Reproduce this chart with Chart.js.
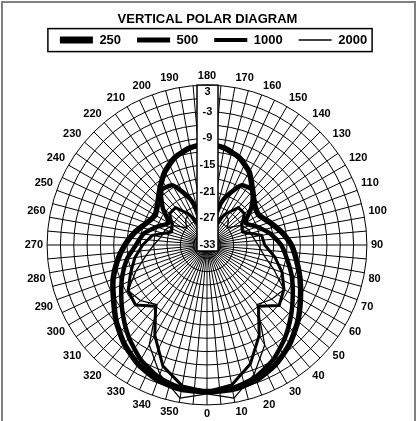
<!DOCTYPE html>
<html>
<head>
<meta charset="utf-8">
<script src="https://cdn.jsdelivr.net/npm/chart.js@4.4.1/dist/chart.umd.min.js"></script>
<style>
  html, body { margin: 0; padding: 0; background: #fff; }
  #wrap { width: 417px; height: 421px; position: relative; }
</style>
</head>
<body>
<div id="wrap"><canvas id="polar"></canvas></div>
<script>
// measured angle in degrees, one value every 10 deg
var angles = [0, 10, 20, 30, 40, 50, 60, 70, 80, 90, 100, 110, 120, 130, 140, 150, 160, 170,
              180, 190, 200, 210, 220, 230, 240, 250, 260, 270, 280, 290, 300, 310, 320, 330, 340, 350];

// level in dB for each band, same order as angles
var s250 = [0, 0, -0.6, -2, -4, -6.3, -8.7, -10.7, -12.5, -14, -16, -18, -19.5, -19, -17, -14, -12, -10.8,
            -10.2, -10.8, -12, -14, -16.5, -18.5, -19.5, -18.5, -16.5, -14.5, -12.5, -10.5, -8.7, -6.3, -4, -2, -0.6, 0];
var s500 = [0, -0.3, -1.3, -3.2, -5.7, -8.3, -10.7, -12.7, -14.7, -16.3, -18.5, -21, -23, -20, -17, -17.5, -22, -28,
            -31, -28, -22, -17.5, -17, -20, -23, -21, -18.5, -17, -14.7, -12.7, -10.7, -8.3, -5.7, -3.2, -1.3, -0.3];
var s1000 = [0, -1, -4.5, -9.5, -15, -11.8, -13, -15, -17.5, -20, -20.5, -24.5, -24, -22, -22, -25, -29, -31,
             -33, -31, -29, -25, -22, -22, -24, -24.5, -20.5, -18.5, -16.5, -14.7, -12.5, -12, -15, -9.5, -4, -0.8];
var s2000 = [0.5, 2, -2, -7, -15.5, -14, -13, -17, -20, -21.5, -22.5, -23, -24, -27, -25.5, -25, -27, -30,
             -33, -30, -27, -25, -25.5, -27, -24, -23, -22.5, -21, -19, -16, -12.5, -13.5, -15.5, -7, -2, 2];

var bandNames = ['250', '500', '1000', '2000'];
var bandSeries = [s250, s500, s1000, s2000];
var lineWidths = [5.5, 4.5, 3, 1.3];
var lineTension = [0.2, 0.2, 0, 0];
var legendWidths = [7, 5, 4, 1.5];

// radial axis
var scaleMin = -33;
var scaleMax = 3;
var tickLabels = [3, -3, -9, -15, -21, -27, -33];

// spokes every 5 deg, clockwise from 180 at the top
var spokes = [];
for (var i = 0; i < 72; i++) spokes.push(String((540 - 5 * i) % 360));

function toSpokes(series) {
  return spokes.map(function (a) {
    var k = angles.indexOf(+a);
    return k < 0 ? null : series[k];
  });
}

Chart.defaults.font.family = "'Liberation Sans', Arial, sans-serif";
Chart.defaults.color = '#000';

var LEGEND_SHIFT = 6;

var frame = {
  id: 'frame',
  afterLayout: function (chart) {
    // nudge the legend row a little to the right, like the original
    var lg = chart.legend;
    lg.left += LEGEND_SHIFT;
    lg.right += LEGEND_SHIFT;
    (lg.legendHitBoxes || []).forEach(function (b) { b.left += LEGEND_SHIFT; });
  },
  beforeDraw: function (chart) {
    var c = chart.ctx;
    c.save();
    c.fillStyle = '#fff';
    c.fillRect(0, 0, chart.width, chart.height);
    c.strokeStyle = '#808080';
    c.lineWidth = 2;
    c.strokeRect(2, 2, chart.width - 4, chart.height + 20);
    c.restore();
  },
  afterDatasetsDraw: function (chart) {
    // white strip holding the dB scale, drawn over the curves
    var c = chart.ctx, s = chart.scales.r;
    var top = s.yCenter - s.drawingArea;
    c.save();
    c.fillStyle = '#fff';
    c.fillRect(s.xCenter - 10, top, 21, s.drawingArea + 6);
    c.strokeStyle = '#000';
    c.lineWidth = 1.5;
    c.strokeRect(s.xCenter - 10, top, 21, s.drawingArea + 6);
    c.font = "bold 11px 'Liberation Sans', Arial, sans-serif";
    c.textAlign = 'center';
    c.textBaseline = 'middle';
    c.fillStyle = '#000';
    tickLabels.forEach(function (v) {
      var y = s.yCenter - s.getDistanceFromCenterForValue(v);
      if (y < top + 7) y = top + 7;
      c.fillText(String(v), s.xCenter + 0.5, y);
    });
    c.restore();
  },
  afterDraw: function (chart) {
    var boxes = chart.legend.legendHitBoxes;
    if (!boxes || !boxes.length) return;
    var first = boxes[0], last = boxes[boxes.length - 1];
    var c = chart.ctx;
    c.save();
    c.strokeStyle = '#000';
    c.lineWidth = 1.5;
    c.strokeRect(first.left - 12, first.top - 5, last.left + last.width + 5 - (first.left - 12), 23);
    c.restore();
  }
};

new Chart(document.getElementById('polar'), {
  type: 'radar',
  plugins: [frame],
  data: {
    labels: spokes,
    datasets: bandSeries.map(function (s, k) {
      return {
        label: bandNames[k],
        data: toSpokes(s),
        borderColor: '#000',
        backgroundColor: '#000',
        borderWidth: lineWidths[k],
        borderJoinStyle: 'round',
        pointRadius: 0,
        fill: false,
        tension: lineTension[k],
        spanGaps: true
      };
    })
  },
  options: {
    responsive: true,
    maintainAspectRatio: false,
    animation: false,
    layout: { padding: { top: 0, left: 0, right: 2, bottom: -2 } },
    plugins: {
      tooltip: { enabled: false },
      title: {
        display: true,
        text: 'VERTICAL POLAR DIAGRAM',
        font: { size: 13, weight: 'bold' },
        padding: { top: 11.5, bottom: -9.5 }
      },
      legend: {
        position: 'top',
        labels: {
          usePointStyle: true,
          pointStyle: 'line',
          pointStyleWidth: 33,
          padding: 16,
          font: { size: 13, weight: 'bold' },
          generateLabels: function (chart) {
            var items = Chart.defaults.plugins.legend.labels.generateLabels(chart);
            items.forEach(function (it, k) {
              it.lineWidth = legendWidths[k];
              it.strokeStyle = '#000';
              it.fillStyle = '#000';
              it.pointStyle = 'line';
            });
            return items;
          }
        }
      },
      subtitle: {
        display: true,
        text: '',
        weight: 500,
        font: { size: 13, lineHeight: 1 },
        padding: { top: 0.5, bottom: 0 }
      }
    },
    scales: {
      r: {
        min: scaleMin,
        max: scaleMax,
        ticks: { stepSize: 3, display: false },
        grid: { circular: true, color: '#000', lineWidth: 1 },
        angleLines: { color: '#000', lineWidth: 1 },
        pointLabels: {
          font: { size: 11, weight: 'bold', lineHeight: 1 },
          padding: 4,
          color: '#000',
          callback: function (label) { return (+label) % 10 === 0 ? label : ''; }
        }
      }
    }
  }
});
</script>
</body>
</html>
